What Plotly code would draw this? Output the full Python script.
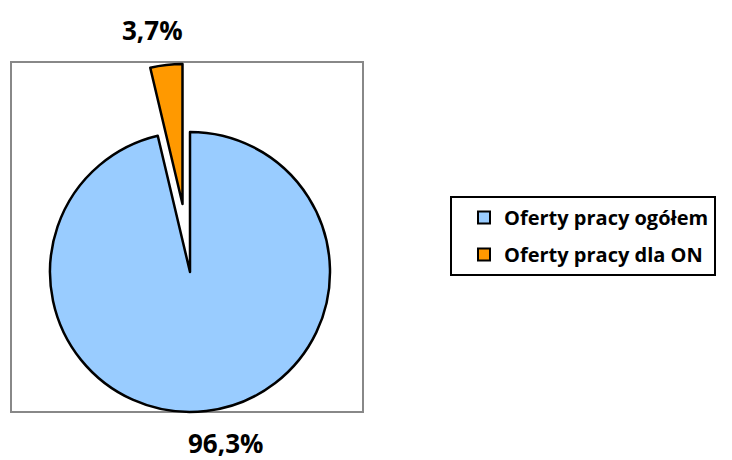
import plotly.graph_objects as go

labels = ["Oferty pracy ogółem", "Oferty pracy dla ON"]
values = [96.3, 3.7]
colors = ["#99CCFF", "#FF9900"]

OFF = 8  # page body margin shifts the figure by 8px
W, H = 732 - OFF, 460 - OFF
FONT = "Open Sans"


def px(x, y):
    # reference pixel -> paper coords
    return (x - OFF) / W, 1 - (y - OFF) / H


def dom(cx, cy, r):
    x0, y1 = px(cx - r, cy - r)
    x1, y0 = px(cx + r, cy + r)
    return dict(x=[x0, x1], y=[y0, y1])


total = sum(values)
pct = [v / total * 100 for v in values]
pct_txt = [f"{p:.1f}%".replace(".", ",") for p in pct]

fig = go.Figure()

# legend-only pies (tiny, hidden under the main pie centre)
for i, (lab, col) in enumerate(zip(labels, colors)):
    fig.add_trace(go.Pie(
        labels=[lab], values=[values[i]], sort=False,
        marker=dict(colors=[col], line=dict(color="black", width=2)),
        textinfo="none", hoverinfo="skip", legendgroup=f"g{i}",
        domain=dom(190, 272, 0.2),
    ))

# main slice
fig.add_trace(go.Pie(
    labels=labels, values=values, sort=False, direction="clockwise", rotation=0,
    marker=dict(colors=[colors[0], "rgba(0,0,0,0)"],
                line=dict(color="black", width=[2.5, 0])),
    textinfo="none", showlegend=False,
    domain=dom(190, 272, 140),
))

# exploded slice
fig.add_trace(go.Pie(
    labels=labels, values=values, sort=False, direction="clockwise", rotation=0,
    marker=dict(colors=["rgba(0,0,0,0)", colors[1]],
                line=dict(color="black", width=[0, 2.5])),
    textinfo="none", showlegend=False,
    domain=dom(182.5, 204, 140),
))

bx0, by1 = px(11, 62)
bx1, by0 = px(363, 412)
fig.add_shape(type="rect", xref="paper", yref="paper",
              x0=bx0, x1=bx1, y0=by0, y1=by1,
              line=dict(color="#888888", width=2), layer="below")

for txt, (x, y) in [(pct_txt[1], (152, 30)), (pct_txt[0], (225, 443))]:
    ax, ay = px(x, y)
    fig.add_annotation(text=f"<b>{txt}</b>", x=ax, y=ay,
                       xref="paper", yref="paper", showarrow=False,
                       xanchor="center", yanchor="middle",
                       font=dict(family=FONT, size=26, color="black"))

lx, ly = px(450, 196)
fig.update_layout(
    width=W, height=H,
    margin=dict(l=0, r=0, t=0, b=0),
    paper_bgcolor="white", plot_bgcolor="white",
    legend=dict(
        x=lx, y=ly, xanchor="left", yanchor="top",
        bordercolor="black", borderwidth=2, indentation=12,
        font=dict(family=FONT, size=20, color="black", weight="bold"),
        traceorder="grouped", tracegroupgap=8,
        itemclick=False, itemdoubleclick=False,
    ),
)

fig.write_html("out.html")
